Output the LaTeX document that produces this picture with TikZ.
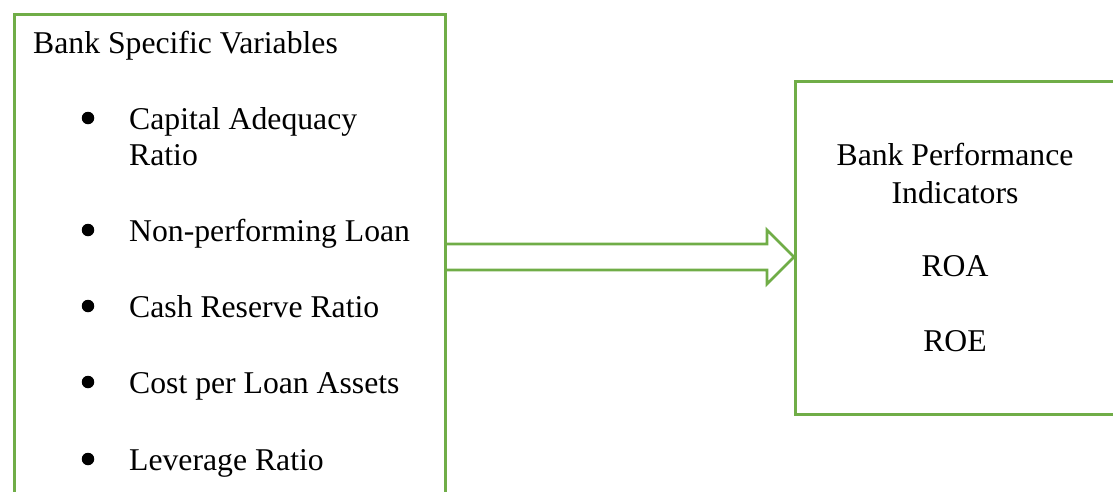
\documentclass[tikz,border=0pt]{standalone}
\usepackage{fontspec}
\setmainfont{Liberation Serif}
\definecolor{officegreen}{RGB}{112,173,71}
\tikzset{
  box/.style={draw=officegreen, line width=2.8pt, anchor=north west, inner sep=0pt},
  txt/.style={anchor=base, inner sep=0pt, font=\fontsize{31.7}{38}\selectfont},
  bullet/.style={circle, fill=black, inner sep=0pt, minimum size=12.5pt},
  blockarrow/.style={draw=officegreen, line width=2.8pt, line join=miter}
}
\begin{document}
\begin{tikzpicture}[x=1pt,y=-1pt]
  \useasboundingbox (0,0) rectangle (1113,491);
  \clip (0,0) rectangle (1113,491);
  % boxes
  \node[box, minimum width=431pt, minimum height=500pt] (vars) at (13,13) {};
  \node[box, minimum width=322pt, minimum height=333pt] (perf) at (794,80) {};
  % left side
  \node[txt, anchor=base west] (title) at (33,53) {Bank Specific Variables};
  \foreach \txt/\y [count=\i] in {Capital Adequacy/129, Non-performing Loan/241,
      Cash Reserve Ratio/317, Cost per Loan Assets/393, Leverage Ratio/470} {
    \node[bullet] (dot\i) at (88,\y-11) {};
    \node[txt, anchor=base west] (item\i) at (129,\y) {\txt};
  }
  \node[txt, anchor=base west] (item1b) at (129,165) {Ratio};
  % right side
  \node[txt] (perf1) at (955,165) {Bank Performance};
  \node[txt] (perf2) at (955,203) {Indicators};
  \node[txt] (roa) at (955,276) {ROA};
  \node[txt] (roe) at (955,351) {ROE};
  % arrow
  \draw[blockarrow] (vars.east |- 0,244) -- (767,244) -- (767,230)
    -- (perf.west |- 0,257) -- (767,284) -- (767,270) -- (vars.east |- 0,270);
\end{tikzpicture}
\end{document}
